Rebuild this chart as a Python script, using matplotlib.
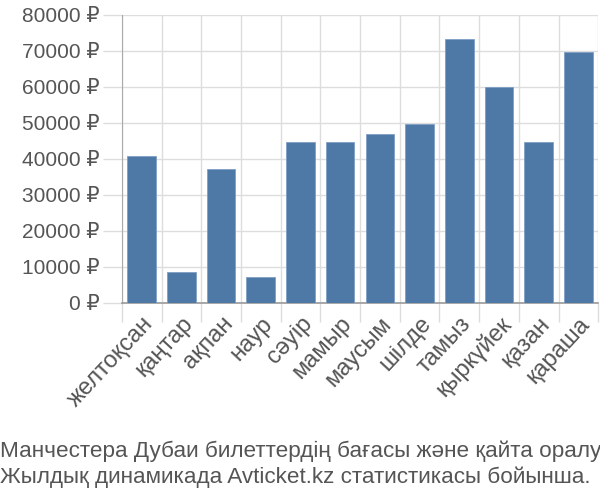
import numpy as np
from matplotlib import pyplot as plt
from matplotlib.ticker import FixedLocator, FuncFormatter

months = ['желтоқсан', 'қаңтар', 'ақпан', 'наур', 'сәуір', 'мамыр',
          'маусым', 'шілде', 'тамыз', 'қыркүйек', 'қазан', 'қараша']
prices = [40800, 8500, 37300, 7200, 44700, 44700,
          47000, 49600, 73400, 60000, 44700, 69800]
yticks = [0, 10000, 20000, 30000, 40000, 50000, 60000, 70000, 80000]
title = ('Манчестера Дубаи билеттердің бағасы және қайта оралу\n'
         'Жылдық динамикада Avticket.kz статистикасы бойынша.')

plt.rcParams['font.family'] = ['Liberation Sans', 'DejaVu Sans']

fig = plt.figure(figsize=(6, 5), dpi=100)
ax = fig.add_axes([0.203, 0.394, 0.794, 0.576])

x = np.arange(len(months))
ax.bar(x, prices, width=0.72, color='#4e78a6', edgecolor='#7f9fc4', linewidth=0.6, zorder=3)

ax.set_xlim(-0.5, len(months) - 0.5)
ax.set_ylim(0, 80000)
ax.set_yticks(yticks)
ax.yaxis.set_major_formatter(FuncFormatter(lambda v, p: f'{int(v)} ₽'))
ax.set_xticks(x)
ax.set_xticklabels(months, rotation=47, ha='right', rotation_mode='anchor')
ax.xaxis.set_minor_locator(FixedLocator(np.arange(-0.5, len(months), 1.0)))

ax.grid(axis='y', color='#dddddd', linewidth=1, zorder=0)
ax.grid(axis='x', which='minor', color='#dddddd', linewidth=1, zorder=0)
ax.tick_params(axis='x', which='major', length=0, pad=7, labelsize=17, labelcolor='#555555')
ax.tick_params(axis='x', which='minor', length=14, color='#dddddd', width=1)
ax.tick_params(axis='y', length=14, color='#dddddd', width=1, pad=2, labelsize=15, labelcolor='#555555')

for s in ['top', 'right']:
    ax.spines[s].set_visible(False)
ax.spines['left'].set_color('#aaaaaa')
ax.spines['bottom'].set_color('#999999')
ax.spines['bottom'].set_linewidth(1.2)

fig.text(0.0, 0.024, title, fontsize=16.2, color='#555555', ha='left', va='bottom', linespacing=1.25)

fig.savefig('out.png', dpi=100)
